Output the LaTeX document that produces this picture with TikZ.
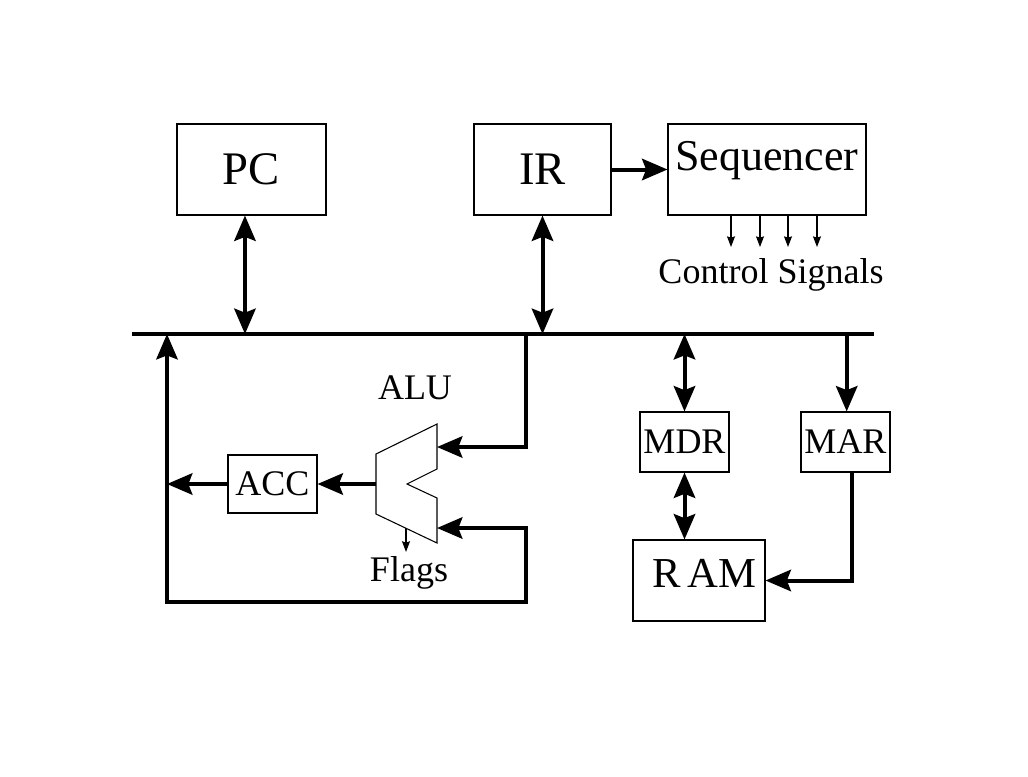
\documentclass[tikz,border=0pt]{standalone}
\usepackage{fontspec}
\setmainfont{Liberation Serif}
\usetikzlibrary{arrows.meta}
\newcommand{\regfont}{\fontsize{35}{40}\selectfont}
\newcommand{\seqfont}{\fontsize{33}{38}\selectfont}
\newcommand{\lblfont}{\fontsize{27}{32}\selectfont}
\newcommand{\ramfont}{\fontsize{32}{36}\selectfont}
\tikzset{
  box/.style={draw, line width=0.8pt, inner sep=0pt},
  wire/.style={line width=3pt},
  tip/.style={-{Stealth[length=19pt,width=16pt,inset=3pt]}},
  dtip/.style={{Stealth[length=19pt,width=16pt,inset=3pt]}-{Stealth[length=19pt,width=16pt,inset=3pt]}},
  sig/.style={line width=0.8pt, -{Stealth[length=8pt,width=6pt,inset=1pt]}},
}
\begin{document}
\begin{tikzpicture}[x=0.75pt, y=-0.75pt, line join=miter]
\useasboundingbox (0,0) rectangle (1028,776);
% registers and memory
\node[box, minimum width=111.75pt, minimum height=68.25pt, font=\regfont] (PC) at (251.5,169.5) {PC};
\node[box, minimum width=102.75pt, minimum height=68.25pt, font=\regfont] (IR) at (542.5,169.5) {IR};
\node[box, minimum width=148.5pt, minimum height=68.25pt,
      label={[anchor=north, inner sep=13pt, font=\seqfont]north:Sequencer}] (SEQ) at (767,169.5) {};
\node[font=\lblfont] (CS) at (771,275) {Control Signals};
\node[box, minimum width=66.75pt, minimum height=45pt, font=\lblfont] (MDR) at (684.5,442) {MDR};
\node[box, minimum width=66.75pt, minimum height=45pt, font=\lblfont] (MAR) at (845.5,442) {MAR};
\node[box, minimum width=99pt, minimum height=60.75pt,
      label={[xshift=4pt, yshift=5pt, font=\ramfont]center:R\,AM}] (RAM) at (699,580.5) {};
\node[box, minimum width=66.75pt, minimum height=43.5pt, font=\lblfont] (ACC) at (272.5,484) {ACC};
% ALU
\draw[line width=0.8pt] (437,424) -- (437,469) -- (407,484) -- (437,498) -- (437,543)
  -- (376,514) -- (376,454) -- cycle;
\coordinate (aluA) at (437,447);
\coordinate (aluB) at (437,528);
\coordinate (aluO) at (376,484);
\coordinate (aluF) at (406,528);
\node[font=\lblfont] (ALU) at (415,388) {ALU};
\node[font=\lblfont] (FL) at (409,573) {Flags};
% bus
\coordinate (busL) at (132,334);
\coordinate (busR) at (874,334);
\coordinate (bALU) at (526,334);
\coordinate (bACC) at (167,334);
\coordinate (accL) at (167,484);
\coordinate (loopL) at (167,602);
\coordinate (loopR) at (526,602);
\draw[wire] (busL) -- (busR);
% connections
\draw[wire, dtip] ([xshift=-4.9pt]PC.south) -- ([xshift=-4.9pt]PC.south |- busL);
\draw[wire, dtip] (IR.south) -- (IR.south |- busL);
\draw[wire, tip] (IR.east) -- (SEQ.west);
\foreach \x in {731,760,788,817}
  \draw[sig] (\x,0 |- SEQ.south) -- (\x,247);
\draw[wire, dtip] (MDR.north |- busL) -- (MDR.north);
\draw[wire, tip] ([xshift=0.9pt]MAR.north |- busL) -- ([xshift=0.9pt]MAR.north);
\draw[wire, dtip] (MDR.south) -- (MDR.south |- RAM.north);
\draw[wire, tip] ([xshift=4.5pt]MAR.south) |- (RAM.east);
\draw[wire, tip] (bALU) |- (aluA);
\draw[wire, tip] (aluO) -- (ACC.east);
\draw[wire, tip] (ACC.west) -- (accL);
\draw[wire, dtip] (bACC) -- (loopL) -- (loopR) |- (aluB);
\draw[sig] (aluF) -- (aluF |- FL.north);
\end{tikzpicture}
\end{document}
